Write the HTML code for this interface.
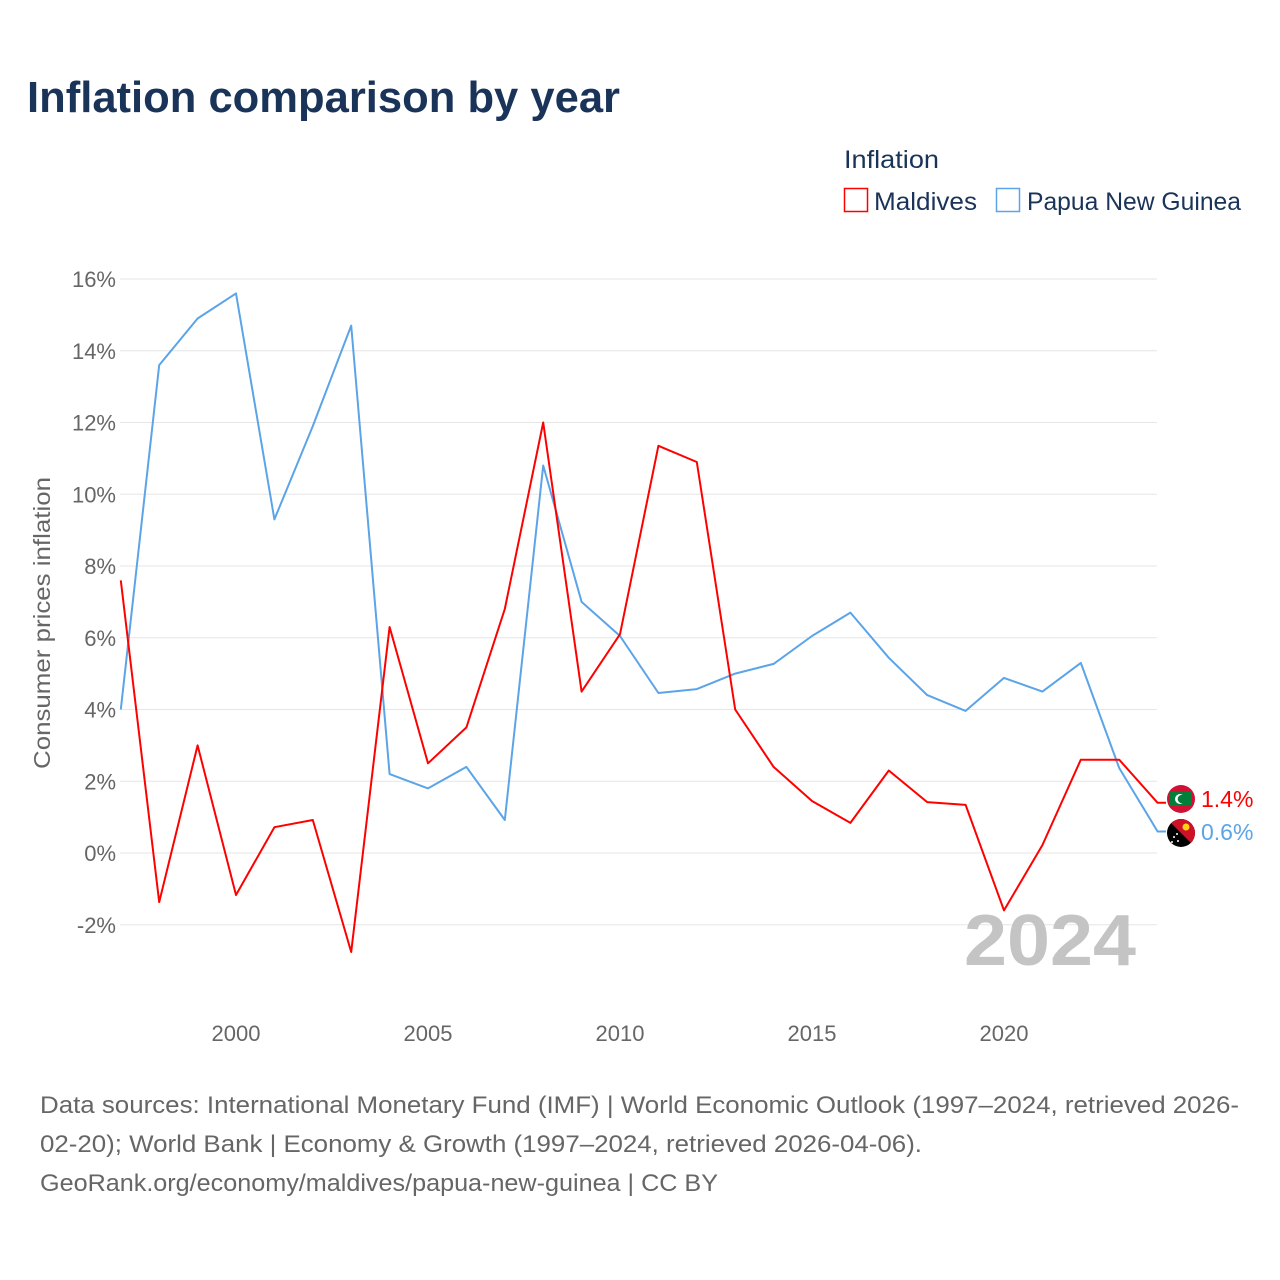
<!DOCTYPE html>
<html><head><meta charset="utf-8"><style>
html,body{margin:0;padding:0;background:#fff;width:1280px;height:1280px;overflow:hidden}
svg{display:block;font-family:"Liberation Sans",sans-serif}
</style></head><body>
<svg id="chart" width="1280" height="1280" viewBox="0 0 1280 1280">
<text x="27" y="112" font-size="44" font-weight="bold" fill="#1a3358" textLength="593" lengthAdjust="spacingAndGlyphs">Inflation comparison by year</text>
<text x="844" y="168" font-size="25" fill="#1a3358" textLength="95" lengthAdjust="spacingAndGlyphs">Inflation</text>
<g>
<rect x="844.5" y="188.5" width="23" height="23" fill="#fff" stroke="#f00" stroke-width="1.5"/>
<text x="874" y="210" font-size="25" fill="#1a3358" textLength="103" lengthAdjust="spacingAndGlyphs">Maldives</text></g>
<g>
<rect x="996.5" y="188.5" width="23" height="23" fill="#fff" stroke="#5ba4e8" stroke-width="1.5"/>
<text x="1027" y="210" font-size="25" fill="#1a3358" textLength="214" lengthAdjust="spacingAndGlyphs">Papua New Guinea</text></g>
<g id="grid"></g><g id="yt"></g><g id="xt"></g>
<text transform="translate(50,623) rotate(-90)" text-anchor="middle" font-size="23" fill="#666" textLength="292" lengthAdjust="spacingAndGlyphs">Consumer prices inflation</text>
<text x="1136" y="965" text-anchor="end" font-size="72" font-weight="bold" fill="#c4c4c4" textLength="172" lengthAdjust="spacingAndGlyphs">2024</text>
<g id="lines"></g>
<g>
<circle cx="1181" cy="799" r="14" fill="#d21034"/><rect x="1170" y="792" width="22" height="14" fill="#007e3a"/>
<circle cx="1180" cy="799" r="5" fill="#fff"/><circle cx="1182" cy="799" r="4.3" fill="#007e3a"/></g>
<g>
<clipPath id="cp"><circle cx="1181" cy="833" r="14"/></clipPath>
<g clip-path="url(#cp)"><rect x="1167" y="819" width="28" height="28" fill="#000"/><polygon points="1167,819 1195,819 1195,847" fill="#ce1126"/>
<circle cx="1186" cy="827" r="3.5" fill="#fcd116"/><circle cx="1174" cy="837" r="1" fill="#fff"/><circle cx="1178" cy="841" r="1" fill="#fff"/><circle cx="1172" cy="842" r="1" fill="#fff"/><circle cx="1177" cy="834" r="1" fill="#fff"/></g></g>
<text x="1201" y="807" font-size="23" fill="#f00">1.4%</text>
<text x="1201" y="840" font-size="23" fill="#5ba4e8">0.6%</text>
<g font-size="24" fill="#666">
<text x="40" y="1113" textLength="1199" lengthAdjust="spacingAndGlyphs">Data sources: International Monetary Fund (IMF) | World Economic Outlook (1997–2024, retrieved 2026-</text>
<text x="40" y="1152" textLength="882" lengthAdjust="spacingAndGlyphs">02-20); World Bank | Economy &amp; Growth (1997–2024, retrieved 2026-04-06).</text>
<text x="40" y="1191" textLength="678" lengthAdjust="spacingAndGlyphs">GeoRank.org/economy/maldives/papua-new-guinea | CC BY</text></g>
</svg>
<script>
const years=[1997,1998,1999,2000,2001,2002,2003,2004,2005,2006,2007,2008,2009,2010,2011,2012,2013,2014,2015,2016,2017,2018,2019,2020,2021,2022,2023,2024];
const maldives=[7.6,-1.37,3.0,-1.17,0.72,0.92,-2.76,6.3,2.5,3.5,6.8,12.0,4.5,6.1,11.35,10.9,4.0,2.4,1.45,0.84,2.3,1.42,1.34,-1.6,0.22,2.6,2.6,1.4];
const png=[4.0,13.6,14.9,15.6,9.3,11.9,14.7,2.2,1.8,2.4,0.92,10.8,7.0,6.05,4.46,4.57,5.0,5.27,6.05,6.7,5.44,4.4,3.96,4.88,4.5,5.3,2.37,0.6];
const yTicks=[-2,0,2,4,6,8,10,12,14,16];
const xTicks=[2000,2005,2010,2015,2020];
const NS="http://www.w3.org/2000/svg";
const xs=y=>120.8+(y-1997)*38.4;
const ys=v=>853-v*35.875;
function mk(t,a,p){const e=document.createElementNS(NS,t);for(const k in a)e.setAttribute(k,a[k]);p.appendChild(e);return e;}
const grid=document.getElementById('grid'),yt=document.getElementById('yt'),xt=document.getElementById('xt'),lines=document.getElementById('lines');
yTicks.forEach(v=>{
const l=mk('line',{x1:120,x2:1157,y1:ys(v),y2:ys(v),stroke:'#e6e6e6','stroke-width':1},grid);


const t=mk('text',{x:116,y:ys(v)+8,'text-anchor':'end','font-size':22,fill:'#666'},yt);
t.textContent=v+'%';


});
xTicks.forEach(v=>{
const t=mk('text',{x:xs(v),y:1041,'text-anchor':'middle','font-size':22,fill:'#666'},xt);
t.textContent=v;


});
function line(arr,col,name){
const pts=arr.map((v,i)=>xs(years[i]).toFixed(1)+','+ys(v).toFixed(1));
const last=arr[arr.length-1];
pts.push('1166,'+ys(last).toFixed(1));
const p=mk('polyline',{points:pts.join(' '),fill:'none',stroke:col,'stroke-width':2,'stroke-linejoin':'round'},lines);


}
line(png,'#5ba4e8','png-line');
line(maldives,'#f00','maldives-line');
</script>
</body></html>
